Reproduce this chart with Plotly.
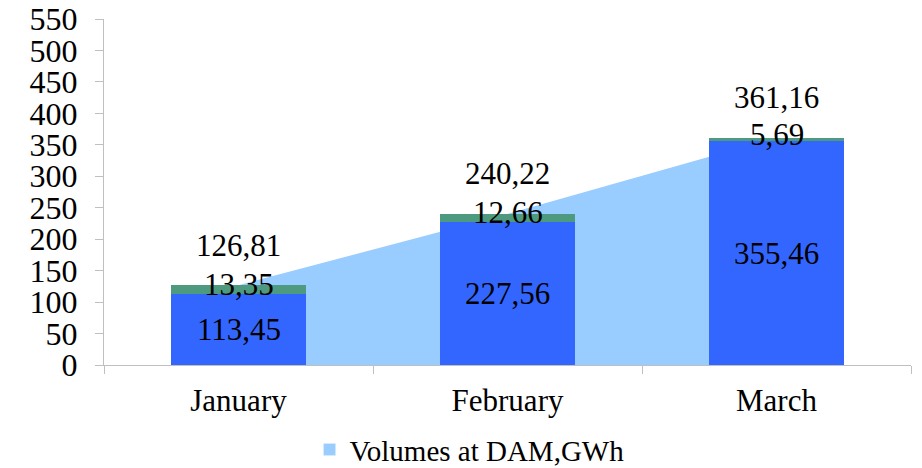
import plotly.graph_objects as go

months = ["January", "February", "March"]
dam_blue = [113.45, 227.56, 355.46]
dam_green = [13.35, 12.66, 5.69]
totals = [126.81, 240.22, 361.16]


def fmt(v):
    return f"{v:.2f}".replace(".", ",")


FONT = "Times New Roman, Liberation Serif, serif"

fig = go.Figure()

# area of totals on the base axes, so the bars (on the overlay axes) sit above it
fig.add_trace(go.Scatter(
    x=months, y=totals, mode="none", fill="tozeroy",
    fillcolor="#99CCFF", showlegend=False, hoverinfo="skip"
))

fig.add_trace(go.Bar(
    x=months, y=dam_blue, marker_color="#3366FF", width=0.5,
    marker_line_width=0, showlegend=False, xaxis="x2", yaxis="y2"
))
fig.add_trace(go.Bar(
    x=months, y=dam_green, marker_color="#4E9A7E", width=0.5,
    marker_line_width=0, showlegend=False, xaxis="x2", yaxis="y2"
))

# legend entry only
fig.add_trace(go.Bar(
    x=[None], y=[None], marker_color="#99CCFF", name="Volumes at DAM,GWh",
    xaxis="x2", yaxis="y2"
))

annotations = []
for m, b, g, t in zip(months, dam_blue, dam_green, totals):
    annotations.append(dict(x=m, y=b / 2, text=fmt(b), showarrow=False))
    annotations.append(dict(x=m, y=b + g / 2, text=fmt(g), showarrow=False, yshift=5))
    annotations.append(dict(x=m, y=t, text=fmt(t), showarrow=False, yshift=40))

# page body has an 8px margin, so the figure is a bit smaller than the window
fig.update_layout(
    barmode="stack",
    width=914, height=460,
    margin=dict(l=96, r=11, t=11, b=103, autoexpand=False),
    paper_bgcolor="white", plot_bgcolor="white",
    font=dict(family=FONT, size=31, color="black"),
    annotations=annotations,
    showlegend=True,
    legend=dict(
        orientation="h", xref="container", x=0.505, xanchor="center",
        yref="container", y=0.04, yanchor="middle",
        font=dict(size=29), bgcolor="rgba(0,0,0,0)"
    ),
    xaxis=dict(
        type="category", range=[-0.5, 2.5], showline=True, linecolor="#BFBFBF",
        linewidth=1, ticks="outside", tickson="boundaries", ticklen=8,
        tickcolor="#BFBFBF", showgrid=False, ticklabelstandoff=8
    ),
    yaxis=dict(
        range=[0, 550], dtick=50, showline=True, linecolor="#BFBFBF", linewidth=1,
        ticks="outside", ticklen=8, tickcolor="#BFBFBF", showgrid=False,
        zeroline=False, ticklabelstandoff=11, tickfont=dict(size=32),
        ticklabeloverflow="allow"
    ),
    xaxis2=dict(
        type="category", range=[-0.5, 2.5], overlaying="x", visible=False
    ),
    yaxis2=dict(
        range=[0, 550], overlaying="y", visible=False
    ),
)

fig.write_html("out.html")
